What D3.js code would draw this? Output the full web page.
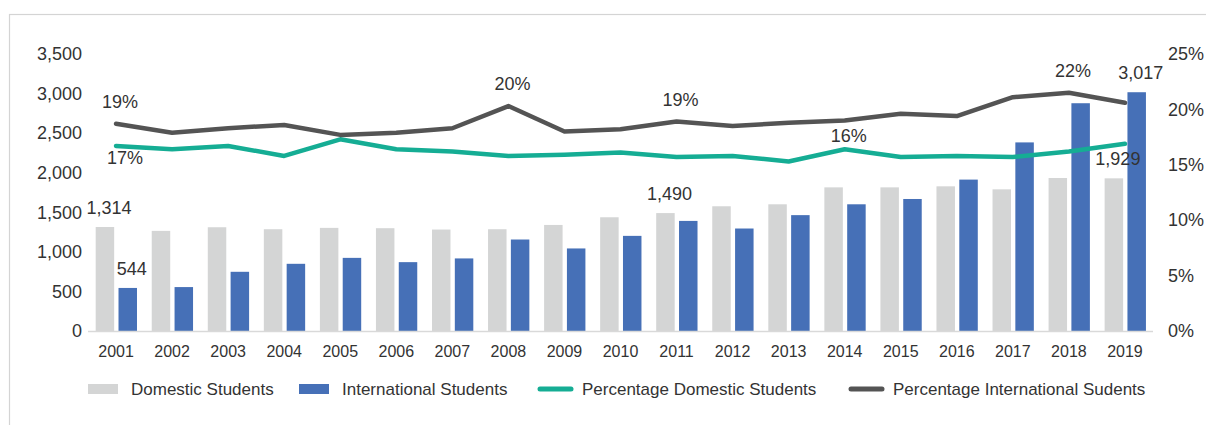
<!DOCTYPE html>
<html>
<head>
<meta charset="utf-8">
<script src="https://cdn.jsdelivr.net/npm/d3@7/dist/d3.min.js"></script>
<style>
  html, body { margin: 0; padding: 0; background: #fff; }
  svg { display: block; font-family: "Liberation Sans", Arial, Helvetica, sans-serif; }
</style>
</head>
<body>
<svg id="chart" width="1206" height="425"></svg>
<script>
// Student enrolments 2001–2019: counts (left axis) and shares (right axis)
const years = ["2001","2002","2003","2004","2005","2006","2007","2008","2009","2010",
               "2011","2012","2013","2014","2015","2016","2017","2018","2019"];
const domesticStudents = [1314,1265,1311,1286,1303,1299,1282,1286,1340,1437,
                          1490,1576,1601,1815,1815,1828,1790,1933,1929];
const internationalStudents = [544,555,748,849,924,870,917,1156,1043,1202,
                               1391,1295,1464,1601,1668,1913,2383,2878,3017];
const pctDomestic = [16.7,16.4,16.7,15.8,17.3,16.4,16.2,15.8,15.9,16.1,
                     15.7,15.8,15.3,16.4,15.7,15.8,15.7,16.2,16.9];
const pctInternational = [18.7,17.9,18.3,18.6,17.7,17.9,18.3,20.3,18.0,18.2,
                          18.9,18.5,18.8,19.0,19.6,19.4,21.1,21.5,20.6];
const leftTicks = [0,500,1000,1500,2000,2500,3000,3500];
const rightTicks = [0,5,10,15,20,25];

// Data labels shown on the chart: [series, year index, text]
const barLabels = [
  ["domestic", 0, "1,314"], ["international", 0, "544"],
  ["domestic", 10, "1,490"], ["domestic", 18, "1,929"], ["international", 18, "3,017"]
];
const lineLabels = [
  ["international", 0, "19%", -1], ["domestic", 0, "17%", 1],
  ["international", 7, "20%", -1], ["international", 10, "19%", -1],
  ["domestic", 13, "16%", -1], ["international", 17, "22%", -1]
];

const colors = {
  domestic: "#d4d5d5",
  international: "#4670b7",
  pctDomestic: "#15ad94",
  pctInternational: "#545454",
  text: "#333333",
  frame: "#d4d4d4",
  baseline: "#d9d9d9"
};

const svg = d3.select("#chart");

// light frame around the chart area
svg.append("rect")
  .attr("x", 9.5).attr("y", 14.5)
  .attr("width", 1206).attr("height", 420)
  .attr("fill", "none").attr("stroke", colors.frame).attr("stroke-width", 1.2);

const plot = { left: 88, right: 1153, top: 54, bottom: 331 };

const x = d3.scaleBand().domain(years).range([plot.left, plot.right]).padding(0);
const bw = x.bandwidth();
const xSub = d3.scaleBand().domain(["domestic", "international"])
  .range([bw * 0.137, bw * 0.874]).paddingInner(0.19);
const yLeft = d3.scaleLinear().domain([0, 3500]).range([plot.bottom, plot.top]);
const yRight = d3.scaleLinear().domain([0, 25]).range([plot.bottom, plot.top]);

// left axis
const leftAxis = svg.append("g")
  .attr("transform", `translate(${plot.left - 6},0)`)
  .call(d3.axisLeft(yLeft).tickValues(leftTicks).tickSize(0).tickPadding(0)
        .tickFormat(d3.format(",")));
leftAxis.select(".domain").remove();
leftAxis.selectAll("text").attr("font-size", 18).attr("fill", colors.text)
  .attr("font-family", "Liberation Sans, Arial, sans-serif");

// right axis
const rightAxis = svg.append("g")
  .attr("transform", `translate(${plot.right + 15},0)`)
  .call(d3.axisRight(yRight).tickValues(rightTicks).tickSize(0).tickPadding(0)
        .tickFormat(d => d + "%"));
rightAxis.select(".domain").remove();
rightAxis.selectAll("text").attr("font-size", 18).attr("fill", colors.text)
  .attr("font-family", "Liberation Sans, Arial, sans-serif");

// bars
const barData = years.map((yr, i) => ({
  year: yr,
  values: [
    { key: "domestic", value: domesticStudents[i] },
    { key: "international", value: internationalStudents[i] }
  ]
}));

const groups = svg.append("g").selectAll("g").data(barData).join("g")
  .attr("transform", d => `translate(${x(d.year)},0)`);
groups.selectAll("rect").data(d => d.values).join("rect")
  .attr("x", d => xSub(d.key))
  .attr("width", xSub.bandwidth())
  .attr("y", d => yLeft(d.value))
  .attr("height", d => yLeft(0) - yLeft(d.value))
  .attr("fill", d => colors[d.key]);

// category baseline
svg.append("line")
  .attr("x1", plot.left).attr("x2", plot.right)
  .attr("y1", plot.bottom + 0.5).attr("y2", plot.bottom + 0.5)
  .attr("stroke", colors.baseline).attr("stroke-width", 1.5);

// x axis labels
const xAxis = svg.append("g")
  .attr("transform", `translate(0,${plot.bottom + 15})`)
  .call(d3.axisBottom(x).tickSize(0).tickPadding(0));
xAxis.select(".domain").remove();
xAxis.selectAll("text").attr("font-size", 16).attr("fill", colors.text)
  .attr("font-family", "Liberation Sans, Arial, sans-serif");

// percentage lines
const cx = i => x(years[i]) + bw / 2;
const lineGen = d3.line().x((d, i) => cx(i)).y(d => yRight(d));

svg.append("path").datum(pctDomestic)
  .attr("d", lineGen).attr("fill", "none")
  .attr("stroke", colors.pctDomestic).attr("stroke-width", 4.5)
  .attr("stroke-linecap", "round").attr("stroke-linejoin", "round");

svg.append("path").datum(pctInternational)
  .attr("d", lineGen).attr("fill", "none")
  .attr("stroke", colors.pctInternational).attr("stroke-width", 4.5)
  .attr("stroke-linecap", "round").attr("stroke-linejoin", "round");

// bar value labels
const labelLayer = svg.append("g")
  .attr("font-size", 18).attr("fill", colors.text).attr("text-anchor", "middle");

barLabels.forEach(([key, i, txt]) => {
  const v = key === "domestic" ? domesticStudents[i] : internationalStudents[i];
  labelLayer.append("text")
    .attr("x", x(years[i]) + xSub(key) + xSub.bandwidth() / 2 + 4)
    .attr("y", yLeft(v) - 13)
    .text(txt);
});

// line value labels
lineLabels.forEach(([key, i, txt, side]) => {
  const v = key === "domestic" ? pctDomestic[i] : pctInternational[i];
  const dx = side > 0 ? 9 : 4;
  const dy = side > 0 ? 18 : (key === "domestic" ? -7 : -16);
  labelLayer.append("text")
    .attr("x", cx(i) + dx)
    .attr("y", yRight(v) + dy)
    .text(txt);
});

// legend
const legendItems = [
  { label: "Domestic Students", type: "box", color: colors.domestic, x: 88 },
  { label: "International Students", type: "box", color: colors.international, x: 299 },
  { label: "Percentage Domestic Students", type: "line", color: colors.pctDomestic, x: 538 },
  { label: "Percentage International Sudents", type: "line", color: colors.pctInternational, x: 849 }
];
const legend = svg.append("g").attr("transform", "translate(0,389)");
legendItems.forEach(item => {
  const g = legend.append("g").attr("transform", `translate(${item.x},0)`);
  if (item.type === "box") {
    g.append("rect").attr("x", 0).attr("y", -5).attr("width", 30).attr("height", 10)
      .attr("fill", item.color);
    g.append("text").attr("x", 43).attr("y", 0).attr("dy", "0.35em")
      .attr("font-size", 17).attr("fill", colors.text).text(item.label);
  } else {
    g.append("line").attr("x1", 2).attr("x2", 33).attr("y1", 0).attr("y2", 0)
      .attr("stroke", item.color).attr("stroke-width", 5).attr("stroke-linecap", "round");
    g.append("text").attr("x", 44).attr("y", 0).attr("dy", "0.35em")
      .attr("font-size", 17).attr("fill", colors.text).text(item.label);
  }
});
</script>
</body>
</html>
